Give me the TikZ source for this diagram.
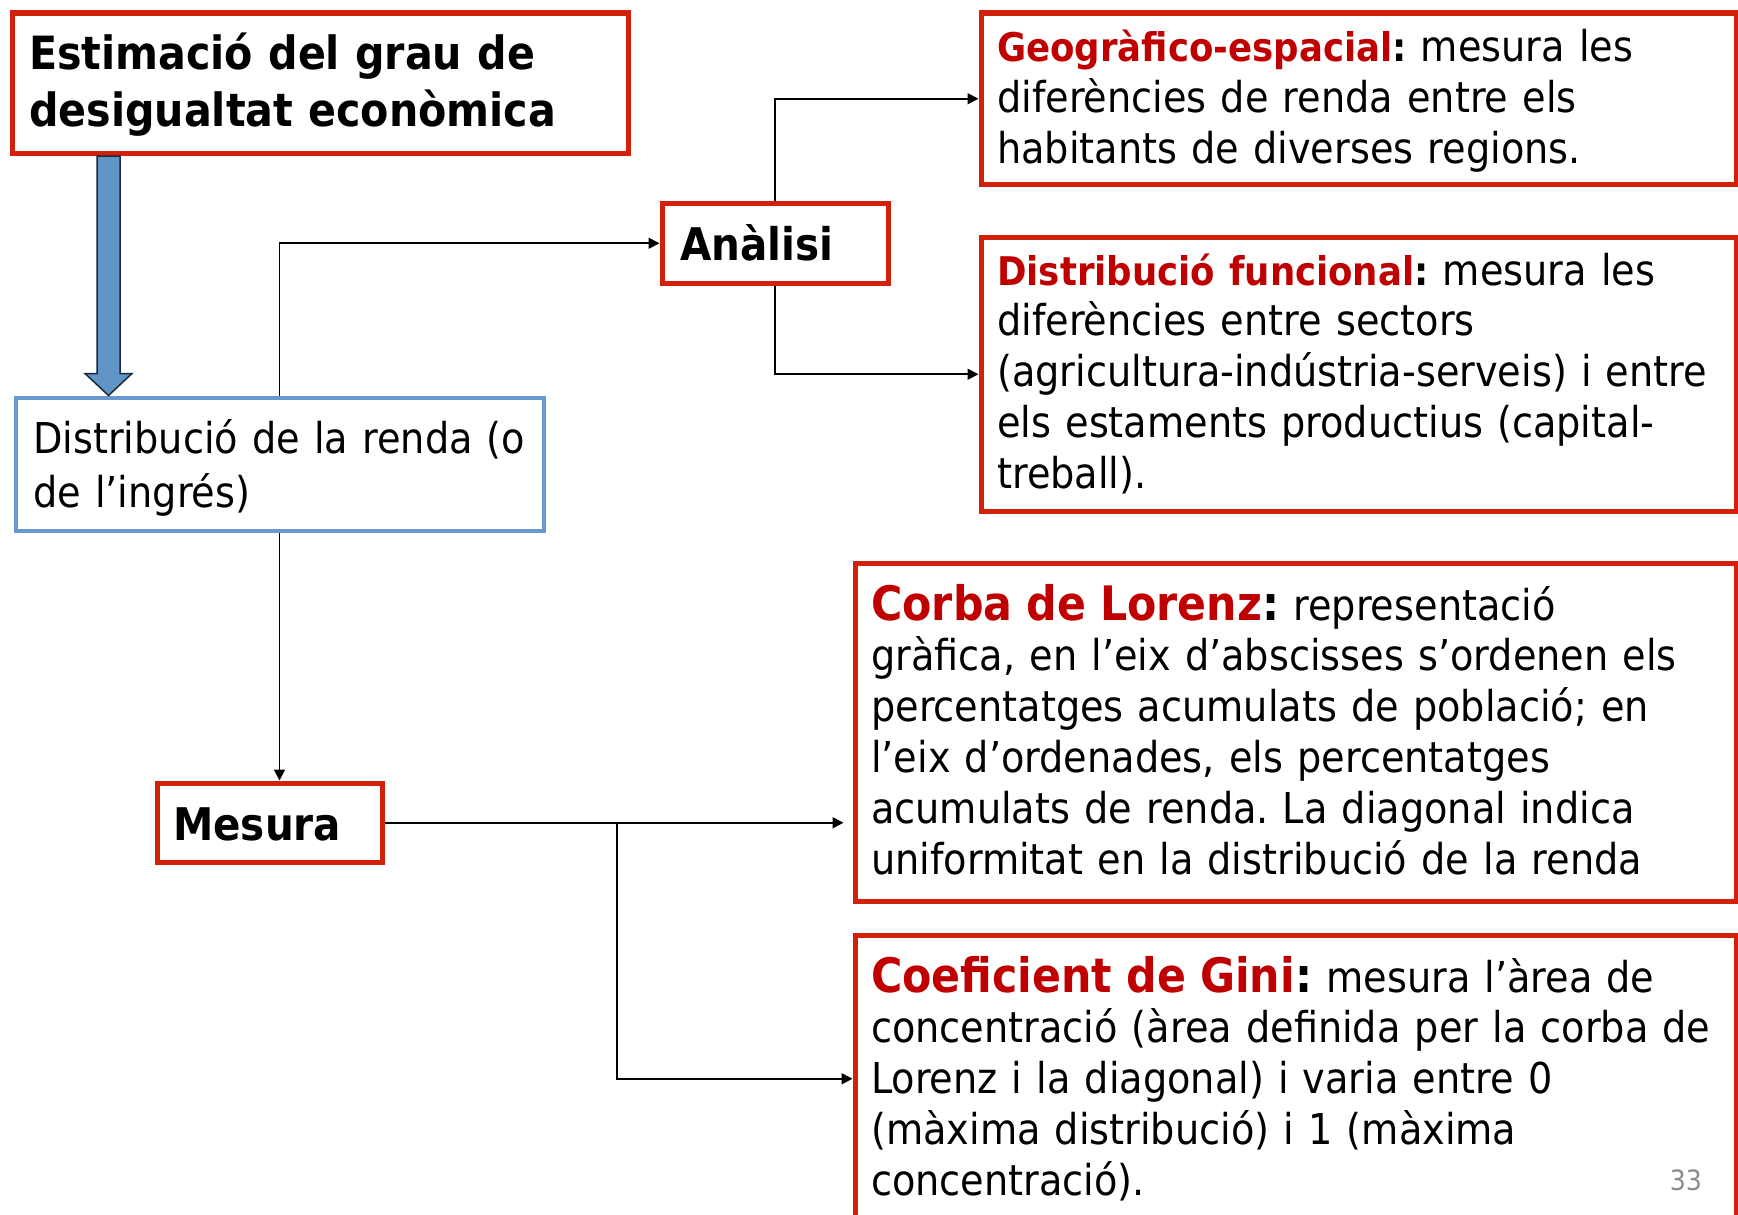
\documentclass[tikz,border=0pt]{standalone}
\usepackage{fontspec}
\setmainfont{DejaVu Sans Condensed}[BoldFont={DejaVu Sans Condensed Bold}]
\usetikzlibrary{arrows.meta,calc}
\definecolor{boxred}{RGB}{210,32,10}
\definecolor{txtred}{RGB}{192,0,0}
\definecolor{boxblue}{RGB}{104,153,207}
\definecolor{arrblue}{RGB}{97,149,200}
\definecolor{pgnum}{RGB}{140,140,140}
\frenchspacing
\tikzset{
  redbox/.style={draw=boxred, line width=5.5pt, rectangle, inner sep=0pt, anchor=north west},
  bluebox/.style={draw=boxblue, line width=4pt, rectangle, inner sep=0pt, anchor=north west},
  txt/.style={anchor=base west, inner sep=0pt, align=left, text width=#1},
  bodyf/.style={font=\fontsize{42.5}{50.8}\selectfont\frenchspacing},
  conn/.style={line width=1.8pt, -{Triangle[length=11pt,width=11pt]}},
  bluearr/.style={fill=arrblue, draw={rgb,255:red,30;green,40;blue,60}, line width=1.5pt, line join=miter}
}
\newcommand{\hred}[1]{\textcolor{txtred}{\bfseries #1}}
\begin{document}
\begin{tikzpicture}[x=1pt,y=-1pt]
\clip (0,0) rectangle (1738,1215);
\fill[white] (0,0) rectangle (1738,1215);

% boxes
\node[redbox, minimum width=616pt, minimum height=140pt] (title) at (9.5,10.5) {};
\node[bluebox, minimum width=528pt, minimum height=133pt] (blue) at (13.5,395.5) {};
\node[redbox, minimum width=226pt, minimum height=80pt] (analisi) at (659.5,200.5) {};
\node[redbox, minimum width=755pt, minimum height=171pt] (geo) at (978.5,10.5) {};
\node[redbox, minimum width=755pt, minimum height=274pt] (dist) at (978.5,234.5) {};
\node[redbox, minimum width=225pt, minimum height=79pt] (mesura) at (154.5,780.5) {};
\node[redbox, minimum width=881pt, minimum height=338pt] (corba) at (852.5,560.5) {};
\node[redbox, minimum width=881pt, minimum height=287pt] (gini) at (852.5,932.5) {};

% texts
\node[txt=600pt, font=\fontsize{45.8}{57}\selectfont\bfseries] (titlet) at (29,70)
  {Estimació del grau de\\desigualtat econòmica};
\node[txt=510pt, font=\fontsize{42.5}{54}\selectfont] (bluet) at (33,453)
  {Distribució de la renda (o\\de l’ingrés)};
\node[txt=200pt, font=\fontsize{45}{54}\selectfont\bfseries] (analisit) at (680,260) {Anàlisi};
\node[txt=200pt, font=\fontsize{45}{54}\selectfont\bfseries] (mesurat) at (173,840) {Mesura};
\node[txt=730pt, bodyf] (geot) at (997,62)
  {{\fontsize{39.5}{50.8}\selectfont\hred{Geogràfico-espacial}\textbf{:}} mesura les\\diferències de renda entre els\\habitants de diverses regions.};
\node[txt=730pt, bodyf] (distt) at (997,285)
  {{\fontsize{39.5}{50.8}\selectfont\hred{Distribució funcional}\textbf{:}} mesura les\\diferències entre sectors\\(agricultura-indústria-serveis) i entre\\els estaments productius (capital-\\treball).};
\node[txt=860pt, bodyf] (corbat) at (871,620)
  {{\fontsize{47.5}{50.8}\selectfont\hred{Corba de Lorenz}\textbf{:}} representació\\gràfica, en l’eix d’abscisses s’ordenen els\\percentatges acumulats de població; en\\l’eix d’ordenades, els percentatges\\acumulats de renda. La diagonal indica\\uniformitat en la distribució de la renda};
\node[txt=860pt, bodyf] (ginit) at (871,992)
  {{\fontsize{47.5}{50.8}\selectfont\hred{Coeficient de Gini}\textbf{:}} mesura l’àrea de\\concentració (àrea definida per la corba de\\Lorenz i la diagonal) i varia entre 0\\(màxima distribució) i 1 (màxima\\concentració).};
\node[anchor=base east, inner sep=0pt, text=pgnum, font=\fontsize{28}{32}\selectfont] (pnum) at (1702,1190) {33};

% block arrow
\coordinate (ac) at (108.5,0);
\draw[bluearr] ($(ac |- title.south)+(-11.5,0)$) -- ($(ac |- title.south)+(11.5,0)$)
  -- ($(ac |- blue.north)+(11.5,-22)$) -- ($(ac |- blue.north)+(23.5,-22)$)
  -- (ac |- blue.north) -- ($(ac |- blue.north)+(-23.5,-22)$)
  -- ($(ac |- blue.north)+(-11.5,-22)$) -- cycle;

% connectors
\draw[conn] (blue.north) |- (analisi.west);
\draw[conn] (analisi.north) |- (geo.west);
\draw[conn] (analisi.south) |- (dist.west);
\draw[conn] (blue.south) -- (blue.south |- mesura.north);
\coordinate (corbain) at ($(corba.west |- mesura.east)+(-9,0)$);
\coordinate (branch) at (617,0);
\draw[conn] (mesura.east) -- (corbain);
\draw[conn] (branch |- mesura.east) |- (gini.west);
\end{tikzpicture}
\end{document}
